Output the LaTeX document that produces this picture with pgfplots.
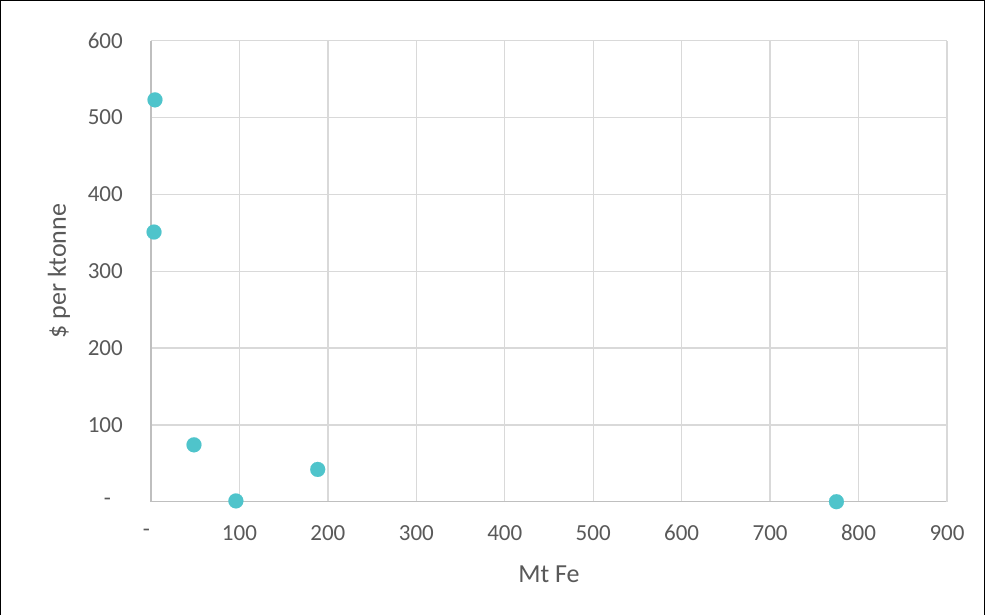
\documentclass[border=0pt]{standalone}
\usepackage{pgfplots}
\pgfplotsset{compat=1.18}
\usepackage{fontspec}
\setmainfont{Carlito}
\definecolor{pt}{HTML}{4FC4CB}
\definecolor{gridc}{HTML}{D9D9D9}
\definecolor{axc}{HTML}{BFBFBF}
\definecolor{txt}{HTML}{595959}
\begin{document}
\begin{tikzpicture}[x=1pt,y=1pt]
\useasboundingbox (-151,-113.3) rectangle (834,501.7);
\draw[black, line width=1.2pt] (-150.4,-113.3) -- (-150.4,501.1) -- (833.4,501.1) -- (833.4,-113.3);
\begin{axis}[
  at={(0,0)}, anchor=south west,
  scale only axis, width=796pt, height=461pt,
  xmin=0, xmax=900, ymin=0, ymax=600,
  xtick={0,100,...,900}, ytick={0,100,...,600},
  xticklabels={{-\rule{9pt}{0pt}},100,200,300,400,500,600,700,800,900},
  yticklabels={{-\rule{12pt}{0pt}},100,200,300,400,500,600},
  major tick length=0pt,
  grid=major,
  major grid style={color=gridc, line width=1.3pt},
  axis line style={color=axc, line width=1.5pt},
  axis x line*=bottom, axis y line*=left,
  every tick label/.append style={font=\fontsize{23}{27}\selectfont, text=txt, inner sep=0pt},
  xticklabel style={anchor=center, yshift=-31pt},
  yticklabel style={anchor=east, xshift=-28pt},
  xlabel={Mt Fe}, ylabel={\$ per ktonne},
  label style={font=\fontsize{26}{30}\selectfont, text=txt, inner sep=0pt},
  xlabel style={at={(axis description cs:0.5,-0.1584)}, anchor=center},
  ylabel style={at={(axis description cs:-0.1156,0.5)}, anchor=center, rotate=0},
  clip=false,
]
\addplot[only marks, mark=*, color=pt, mark size=7.5pt, mark options={fill=pt, draw=pt, line width=0.1pt}]
coordinates {
(4.5,523) (3.4,351) (48.6,74) (96,1) (188.5,42) (775,0)
};
\draw[gridc, line width=1.3pt] (axis cs:900,0) -- (axis cs:900,600);
\draw[gridc, line width=1.3pt] (axis cs:0,600) -- (axis cs:900,600);
\end{axis}
\end{tikzpicture}
\end{document}
